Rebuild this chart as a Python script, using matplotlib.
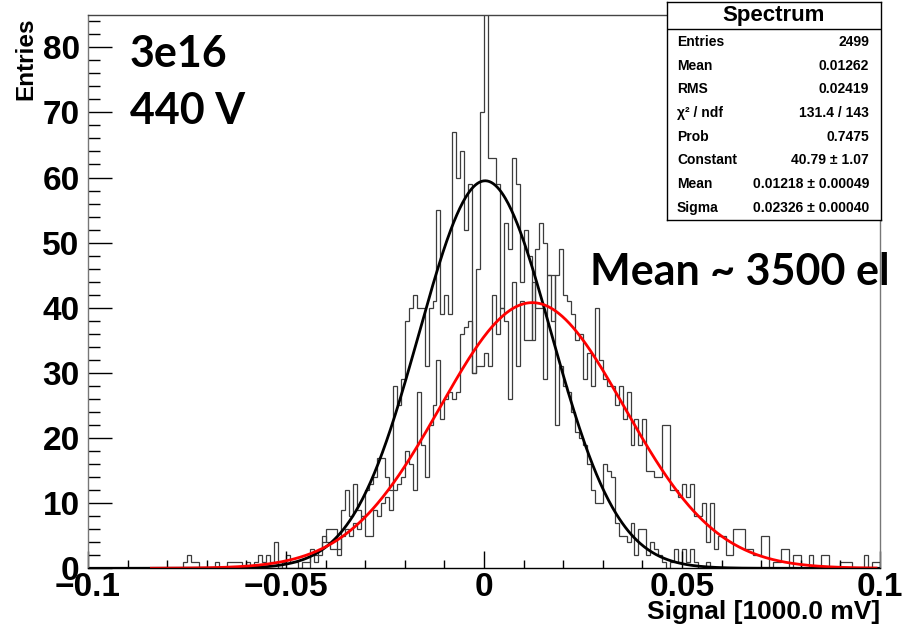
import numpy as np
import matplotlib.pyplot as plt
from matplotlib import font_manager

# bin contents, 200 bins of 0.001 from -0.1 to 0.1
narrow_counts = [
    0, 0, 0, 0, 0, 0, 0, 0, 0, 0, 0, 0, 0, 0, 0, 0, 0, 0, 0, 0,
    0, 0, 0, 0, 0, 0, 0, 0, 0, 0, 0, 0, 0, 0, 0, 0, 0, 0, 0, 0,
    0, 0, 0, 0, 0, 0, 0, 0, 0, 0, 0, 0, 0, 0, 0, 0, 3, 1, 2, 4,
    6, 6, 6, 2, 9, 12, 8, 13, 9, 8, 12, 13, 14, 17, 17, 14, 12, 28, 25, 29,
    38, 40, 42, 40, 40, 31, 40, 41, 55, 39, 42, 39, 67, 60, 64, 52, 59, 30, 46, 70,
    150, 63, 63, 59, 40, 53, 49, 63, 59, 44, 52, 48, 35, 49, 53, 50, 45, 45, 22, 31,
    28, 27, 24, 21, 20, 19, 16, 12, 10, 10, 16, 15, 14, 7, 5, 5, 4, 7, 2, 6,
    6, 2, 4, 3, 2, 1, 0, 1, 3, 1, 3, 1, 3, 1, 0, 0, 1, 0, 0, 0,
    0, 0, 0, 0, 0, 0, 0, 0, 0, 0, 0, 0, 0, 0, 0, 0, 0, 0, 0, 0,
    0, 0, 0, 0, 0, 0, 0, 0, 0, 0, 0, 0, 0, 0, 0, 0, 0, 0, 0, 0,
]
wide_counts = [
    0, 0, 0, 0, 0, 0, 0, 0, 0, 0, 0, 0, 0, 0, 0, 0, 0, 0, 0, 0,
    0, 0, 0, 0, 1, 2, 1, 1, 0, 0, 0, 0, 1, 0, 0, 1, 1, 1, 1, 0,
    1, 0, 1, 2, 1, 2, 1, 4, 0, 1, 2, 1, 1, 0, 1, 1, 2, 2, 3, 5,
    4, 3, 3, 3, 5, 6, 5, 7, 6, 8, 5, 5, 9, 8, 10, 11, 9, 12, 13, 14,
    18, 16, 12, 27, 19, 14, 22, 25, 32, 23, 26, 27, 26, 27, 36, 37, 38, 30, 31, 31,
    33, 31, 42, 36, 40, 38, 26, 44, 31, 41, 35, 35, 44, 40, 40, 29, 45, 38, 45, 49,
    42, 41, 39, 35, 36, 29, 33, 28, 40, 32, 29, 28, 28, 25, 28, 23, 27, 19, 23, 19,
    23, 15, 15, 14, 14, 22, 22, 12, 12, 11, 13, 11, 13, 8, 8, 10, 4, 10, 3, 5,
    5, 2, 2, 6, 6, 6, 3, 3, 2, 2, 5, 5, 0, 1, 1, 3, 3, 0, 2, 2,
    0, 0, 2, 0, 0, 2, 2, 0, 0, 0, 1, 1, 1, 0, 0, 0, 2, 0, 1, 1,
]

# gaussian fit parameters (constant, mean, sigma)
fit_black = (59.5, 0.0003, 0.0167)
fit_red = (40.79, 0.01218, 0.02326)
red_range = (-0.084, 0.099)

stat_labels = ["Entries", "Mean", "RMS", "χ² / ndf", "Prob", "Constant", "Mean", "Sigma"]
stat_values = ["2499", "0.01262", "0.02419", "131.4 / 143", "0.7475",
               "40.79 ± 1.07", "0.01218 ± 0.00049", "0.02326 ± 0.00040"]

x_ticks = [-0.1, -0.05, 0, 0.05, 0.1]
x_ticklabels = ["\u22120.1", "\u22120.05", "0", "0.05", "0.1"]
y_ticks = [0, 10, 20, 30, 40, 50, 60, 70, 80]

names = {f.name for f in font_manager.fontManager.ttflist}
if "Liberation Sans Narrow" in names:
    root_font = ["Liberation Sans Narrow", "DejaVu Sans"]
    k = 1.2
else:
    root_font = ["Liberation Sans", "DejaVu Sans"]
    k = 1.0
plt.rcParams["font.family"] = root_font
plt.rcParams["font.weight"] = "bold"

W, H = 905, 630
fig = plt.figure(figsize=(W / 100, H / 100), dpi=100)
ax = fig.add_axes([88 / W, 1 - 568.3 / H, 792 / W, (568.3 - 14.7) / H])

edges = np.linspace(-0.1, 0.1, 201)
ax.stairs(narrow_counts, edges, color="#3c3c3c", lw=0.9, baseline=0)
ax.stairs(wide_counts, edges, color="#3c3c3c", lw=0.9, baseline=0)


def gaus(x, p):
    c, m, s = p
    return c * np.exp(-0.5 * ((x - m) / s) ** 2)


xb = np.linspace(-0.1, 0.1, 800)
ax.plot(xb, gaus(xb, fit_black), color="black", lw=2)
xr = np.linspace(red_range[0], red_range[1], 800)
ax.plot(xr, gaus(xr, fit_red), color="red", lw=2)

ax.set_xlim(-0.1, 0.1)
ax.set_ylim(0, 85)
ax.set_xticks(x_ticks)
ax.set_xticklabels(x_ticklabels)
ax.set_xticks(np.arange(-0.1, 0.1001, 0.01), minor=True)
ax.set_yticks(y_ticks)
ax.set_yticks(np.arange(0, 85, 2), minor=True)
ax.tick_params(axis="x", which="major", direction="in", length=12, width=1,
               labelsize=24 * k, pad=3)
ax.tick_params(axis="x", which="minor", direction="in", length=6, width=1)
ax.tick_params(axis="y", which="major", direction="in", length=17, width=1,
               labelsize=24 * k, pad=6)
ax.tick_params(axis="y", which="minor", direction="in", length=8.6, width=1)
for sp in ax.spines.values():
    sp.set_linewidth(1)
ax.spines["left"].set_color("#777777")
ax.spines["right"].set_color("#777777")
ax.spines["top"].set_color("#444444")

fig.text(26 / W, 1 - 59 / H, "Entries", rotation=90, ha="center", va="center",
         fontsize=17.5 * k, fontweight="bold")
fig.text(880 / W, 1 - 612 / H, "Signal [1000.0 mV]", ha="right", va="center",
         fontsize=19 * k, fontweight="bold")

# annotations added on top of the plot
ann = dict(family=["Lato", "DejaVu Sans"], fontweight="bold", fontsize=31)
fig.text(130 / W, 1 - 67 / H, "3e16", ha="left", va="baseline", **ann)
fig.text(130 / W, 1 - 124 / H, "440 V", ha="left", va="baseline", **ann)
fig.text(590 / W, 1 - 285 / H, "Mean ~ 3500 el", ha="left", va="baseline", **ann)

# stats box
sb = fig.add_axes([667 / W, 1 - 220 / H, 214 / W, 218 / H])
sb.set_xticks([])
sb.set_yticks([])
sb.set_xlim(0, 214)
sb.set_ylim(220, 2)
for sp in sb.spines.values():
    sp.set_linewidth(1)
    sp.set_color("black")
sb.axhline(29, color="black", lw=1)
sb.text(107, 15.5, "Spectrum", ha="center", va="center", fontsize=16 * k,
        fontweight="bold")
for i, (lab, val) in enumerate(zip(stat_labels, stat_values)):
    yy = 42 + 23.7 * i
    sb.text(10, yy, lab, ha="left", va="center", fontsize=10 * k, fontweight="bold")
    sb.text(202, yy, val, ha="right", va="center", fontsize=10 * k, fontweight="bold")

fig.savefig("out.png", dpi=100)
